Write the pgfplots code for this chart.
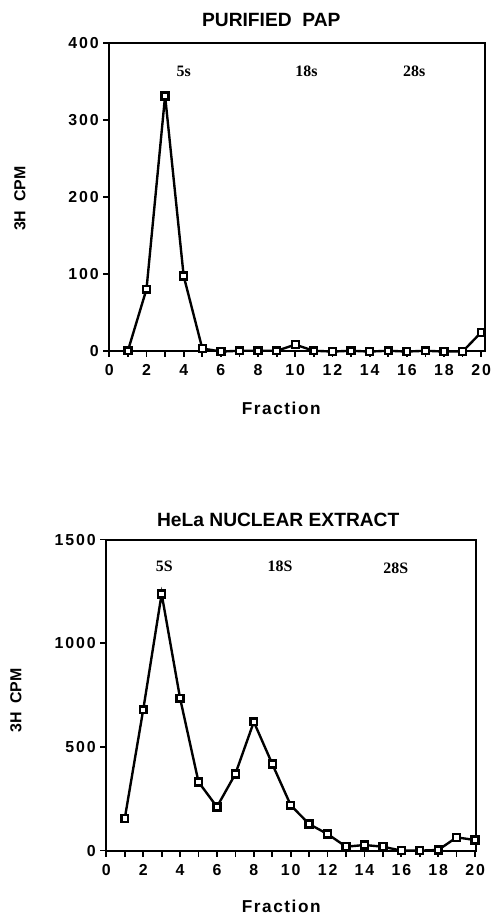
\documentclass[border=0pt]{standalone}
\usepackage{fontspec}
\setmainfont{Liberation Sans}
\newfontfamily\serifb{Liberation Serif}
\usepackage{pgfplots}
\pgfplotsset{compat=1.18}

% fraction data
\pgfplotstableread{
f cpm
1 0
2 80
3 331
4 97
5 3
6 -1
7 0
8 0
9 0
10 8
11 0
12 -1
13 0
14 -1
15 0
16 -1
17 0
18 -1
19 -1
20 24
}\pap
\pgfplotstableread{
f cpm
1 155
2 679
3 1238
4 735
5 331
6 211
7 370
8 621
9 418
10 219
11 128
12 80
13 19
14 27
15 19
16 0
17 0
18 3
19 64
20 51
}\hela

\tikzset{rlab/.style={font=\serifb\bfseries\fontsize{12}{14}\selectfont}}
\pgfplotsset{
  gradplot/.style={
    scale only axis,
    axis line style={line width=1.5pt},
    xmin=0,
    xtick={0,2,...,20},
    minor xtick={1,3,...,19},
    xtick pos=bottom, ytick pos=left,
    tick align=outside,
    major tick length=4.5pt, minor tick length=4.5pt,
    every tick/.style={line width=1.3pt, black},
    every minor tick/.style={line width=1.3pt, black},
    /pgf/number format/assume math mode=true,
    /pgf/number format/1000 sep={},
    tick label style={font=\fontsize{12}{14}\selectfont\bfseries\addfontfeature{LetterSpace=12}},
    xticklabel style={text height=9pt, text depth=0pt, yshift=-2pt},
    clip=false,
  },
  curve/.style={black, line width=1.8pt, mark=square*, mark size=2.6pt,
    mark options={fill=white, line width=1.8pt}},
}

\begin{document}
\begin{tikzpicture}
\path (0,0) rectangle (371.25pt,-687.75pt);

% top panel
\begin{axis}[gradplot, at={(82.5pt,-264.75pt)}, anchor=origin,
  width=283.5pt, height=232.5pt,
  xmax=20.2, ymin=0, ymax=400, ytick={0,100,200,300,400}]
\addplot[curve] table[x=f, y=cpm] {\pap};
\node[rlab] at (axis cs:4,363) {5s};
\node[rlab] at (axis cs:10.6,363) {18s};
\node[rlab] at (axis cs:16.4,363) {28s};
\end{axis}
\node[font=\bfseries\fontsize{14.5}{16}\selectfont] at (204.75pt,-15pt) {PURIFIED\ \ PAP};
\node[font=\bfseries\fontsize{12}{14}\selectfont, rotate=90] at (15pt,-150pt) {3H\ \ CPM};
\node[font=\bfseries\fontsize{13}{15}\selectfont\addfontfeature{LetterSpace=9}] at (212.25pt,-308.5pt) {Fraction};

% bottom panel
\begin{axis}[gradplot, at={(80.25pt,-642pt)}, anchor=origin,
  width=279pt, height=234.75pt,
  xmax=20.05, ymin=0, ymax=1500, ytick={0,500,1000,1500}]
\addplot[curve] table[x=f, y=cpm] {\hela};
\node[rlab] at (axis cs:3.14,1369) {5S};
\node[rlab] at (axis cs:9.42,1369) {18S};
\node[rlab] at (axis cs:15.7,1361) {28S};
\end{axis}
\node[font=\bfseries\fontsize{14.5}{16}\selectfont] at (210pt,-392.25pt) {HeLa NUCLEAR EXTRACT};
\node[font=\bfseries\fontsize{12}{14}\selectfont, rotate=90] at (12pt,-528.75pt) {3H\ \ CPM};
\node[font=\bfseries\fontsize{13}{15}\selectfont\addfontfeature{LetterSpace=9}] at (212.25pt,-684pt) {Fraction};
\end{tikzpicture}
\end{document}
